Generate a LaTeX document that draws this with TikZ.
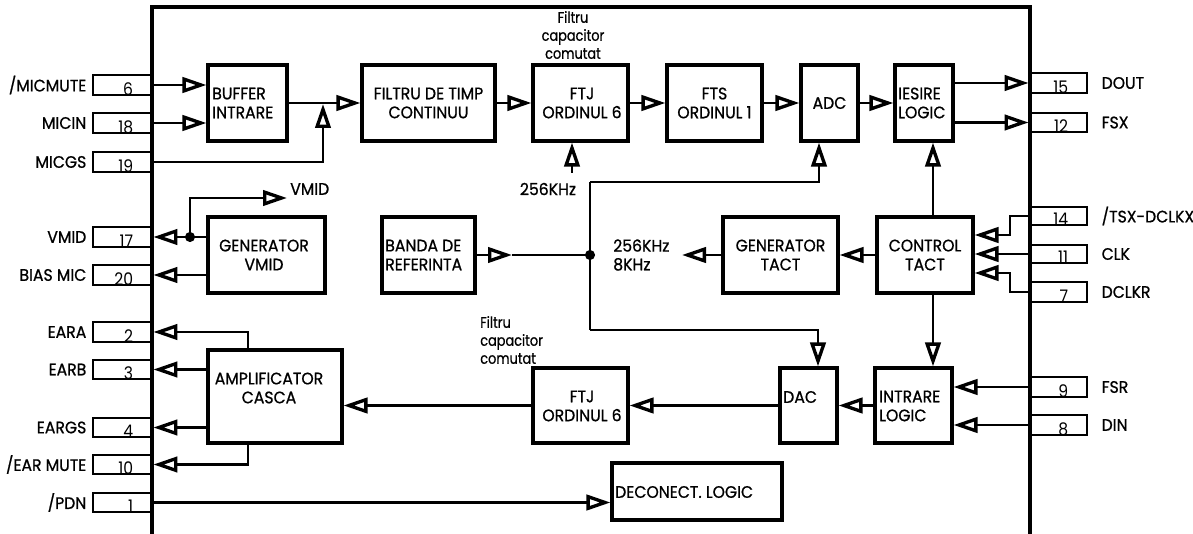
\documentclass[tikz,border=0pt]{standalone}
\usepackage{fontspec}
\setmainfont{Poppins}[FakeStretch=0.94,FakeBold=0.8]
\newfontfamily\narrowf{Poppins}[FakeStretch=0.84,FakeBold=0.6]
\newfontfamily\numf{Poppins}[FakeStretch=0.9]
\usetikzlibrary{arrows.meta,fit}
\newcommand\pinL[5]{%
 \node[pinbox, fit={(93,#2) (152,#3)}] (#1) {};
 \node[num, anchor=base east] (#1n) at ([xshift=-15pt,yshift=1pt]#1.south east) {#4};
 \node[lbl, anchor=east] (#1l) at ([xshift=-3.75pt]#1.west) {#5};}
\newcommand\pinR[5]{%
 \node[pinbox, fit={(1030,#2) (1087,#3)}] (#1) {};
 \node[num, anchor=base east] (#1n) at ([xshift=-15pt,yshift=1pt]#1.south east) {#4};
 \node[lbl, anchor=west] (#1l) at ([xshift=9.75pt]#1.east) {#5};}
\begin{document}
\begin{tikzpicture}[x=0.75pt,y=-0.75pt,
  blk/.style={draw, line width=2.3pt, inner sep=0pt},
  pinbox/.style={draw, line width=2.1pt, inner sep=0pt},
  arr/.style={line width=2.2pt, -{Triangle[open,length=18pt,width=11.5pt,line width=2.5pt]}},
  conn/.style={line width=2.2pt},
  lbl/.style={font=\fontsize{12.5}{14}\selectfont, inner sep=0pt},
  num/.style={font=\numf\fontsize{13}{14}\selectfont, inner sep=0pt},
  btxt/.style={font=\fontsize{12.5}{14.2}\selectfont, align=center, inner sep=0pt},
  small/.style={font=\narrowf\fontsize{11.5}{13.5}\selectfont, inner sep=0pt}]
\useasboundingbox (0,0) rectangle (1193,534);
\clip (0,0) rectangle (1193,534);
\fill[white] (0,0) rectangle (1193,534);
% chip outline
\node[blk, fit={(152,7) (1030,600)}] (chip) {};
% pins
\pinL{p6}{75}{95}{6}{/MICMUTE}
\pinL{p18}{113}{133}{18}{MICIN}
\pinL{p19}{152}{172}{19}{MICGS}
\pinL{p17}{227}{247}{17}{VMID}
\pinL{p20}{265}{285}{20}{BIAS MIC}
\pinL{p2}{322}{342}{2}{EARA}
\pinL{p3}{360}{379}{3}{EARB}
\pinL{p4}{418}{437}{4}{EARGS}
\pinL{p10}{455}{474}{10}{/EAR MUTE}
\pinL{p1}{493}{512}{1}{/PDN}
\pinR{p15}{73}{93}{15}{DOUT}
\pinR{p12}{113}{132}{12}{FSX}
\pinR{p14}{207}{225}{14}{/TSX-DCLKX}
\pinR{p11}{245}{263}{11}{CLK}
\pinR{p7}{282}{302}{7}{DCLKR}
\pinR{p9}{377}{397}{9}{FSR}
\pinR{p8}{415}{435}{8}{DIN}
% blocks
\node[blk, fit={(208,65) (287,141)}] (buf) {};
\node[btxt, align=left, anchor=west] (bufT) at (212,103) {BUFFER\\INTRARE};
\node[blk, fit={(362,65) (495,141)}] (ftc) {};
\node[btxt] (ftcT) at (ftc) {FILTRU DE TIMP\\CONTINUU};
\node[blk, fit={(533,65) (628,141)}] (ftj) {};
\node[btxt] (ftjT) at (582,103) {FTJ\\ORDINUL 6};
\node[blk, fit={(667,65) (762,141)}] (fts) {};
\node[btxt] (ftsT) at (fts) {FTS\\ORDINUL 1};
\node[blk, fit={(801,65) (858,141)}] (adc) {};
\node[btxt] (adcT) at (adc) {ADC};
\node[blk, fit={(895,65) (953,141)}] (ies) {};
\node[btxt, align=left, anchor=west] (iesT) at (898,103) {IESIRE\\LOGIC};
\node[small, align=center] (fc1) at (573,35) {Filtru\\capacitor\\comutat};
\node[blk, fit={(208,217) (325,293)}] (gv) {};
\node[btxt] (gvT) at (264,255) {GENERATOR\\VMID};
\node[blk, fit={(382,217) (475,293)}] (banda) {};
\node[btxt, align=left, anchor=west] (bandaT) at (385,255) {BANDA DE\\REFERINTA};
\node[blk, fit={(723,217) (838,293)}] (gt) {};
\node[btxt] (gtT) at (gt) {GENERATOR\\TACT};
\node[blk, fit={(877,217) (973,293)}] (ctl) {};
\node[btxt] (ctlT) at (ctl) {CONTROL\\TACT};
\node[blk, fit={(208,350) (342,443)}] (amp) {};
\node[btxt] (ampT) at (269,388) {AMPLIFICATOR\\CASCA};
\node[blk, fit={(533,368) (628,443)}] (ftj2) {};
\node[btxt] (ftj2T) at (582,406) {FTJ\\ORDINUL 6};
\node[blk, fit={(780,368) (837,443)}] (dac) {};
\node[btxt, anchor=west] (dacT) at (783,397) {DAC};
\node[blk, fit={(875,368) (952,443)}] (intr) {};
\node[btxt, align=left, anchor=west] (intrT) at (879,406) {INTRARE\\LOGIC};
\node[blk, fit={(612,463) (782,520)}] (dec) {};
\node[btxt, anchor=west] (decT) at (615,492) {DECONECT. LOGIC};
\node[small, align=left, anchor=west] (fc2) at (480,340) {Filtru\\capacitor\\comutat};
\node[lbl] (k256) at (548,189) {256KHz};
\node[lbl, align=left, anchor=west] (k8) at (613,255) {256KHz\\8KHz};
\node[lbl, anchor=west] (vmidl) at (290,189) {VMID};
% coordinates
\coordinate (mgs) at (323,104);
\coordinate (bt) at (590,182);
\coordinate (bb) at (590,330);
\coordinate (j) at (590,255);
\coordinate (adcx) at (819,0);
\coordinate (dacx) at (818,0);
\coordinate (ftjx) at (572,0);
\coordinate (k256top) at (572,173);
\coordinate (btip) at (512,255);
\coordinate (gtip) at (682,255);
\coordinate (ctlx) at (933,0);
\coordinate (k14) at (1010,235);
\coordinate (k7) at (1010,273);
\coordinate (ampx) at (248,0);
\coordinate (vd) at (190,237);
\coordinate (vtip) at (287,198);
% connectors top row
\draw[arr] (p6.east) -- (buf.west |- p6.east);
\draw[arr] (p18.east) -- (buf.west |- p18.east);
\draw[arr] (buf.east) -- (ftc.west);
\draw[arr] (p19.east) -| (mgs);
\draw[arr] (ftc.east) -- (ftj.west);
\draw[arr] (ftj.east) -- (fts.west);
\draw[arr] (fts.east) -- (adc.west);
\draw[arr] (adc.east) -- (ies.west);
\draw[arr] (ies.east |- p15.west) -- (p15.west);
\draw[arr] (ies.east |- p12.west) -- (p12.west);
\draw[arr] (k256top) -- (ftjx |- ftj.south);
% clock bus
\draw[conn] (bt) -- (bb);
\draw[arr] (bt) -| (adcx |- adc.south);
\draw[arr] (bb) -| (dacx |- dac.north);
\draw[arr] (banda.east) -- (btip);
\draw[conn] (btip) -- (j);
\fill (j) circle (3.8pt);
\draw[arr] (gt.west) -- (gtip);
\draw[arr] (ctl.west) -- (gt.east);
\draw[arr] (ctlx |- ctl.north) -- (ctlx |- ies.south);
\draw[arr] (ctlx |- ctl.south) -- (ctlx |- intr.north);
\draw[arr] (p14.west) -| (k14) -- (ctl.east |- k14);
\draw[arr] (p11.west) -- (ctl.east |- p11.west);
\draw[arr] (p7.west) -| (k7) -- (ctl.east |- k7);
% bottom row
\draw[arr] (p9.west) -- (intr.east |- p9.west);
\draw[arr] (p8.west) -- (intr.east |- p8.west);
\draw[arr] (intr.west) -- (dac.east);
\draw[arr] (dac.west) -- (ftj2.east);
\draw[arr] (ftj2.west) -- (amp.east |- ftj2.west);
\draw[arr] (ampx |- amp.north) |- (p2.east);
\draw[arr] (amp.west |- p3.east) -- (p3.east);
\draw[arr] (amp.west |- p4.east) -- (p4.east);
\draw[arr] (ampx |- amp.south) |- (p10.east);
\draw[arr] (p1.east) -- (dec.west |- p1.east);
% VMID
\draw[arr] (gv.west |- p17.east) -- (p17.east);
\draw[arr] (gv.west |- p20.east) -- (p20.east);
\fill (vd) circle (3.8pt);
\draw[arr] (vd) |- (vtip);
\end{tikzpicture}
\end{document}
